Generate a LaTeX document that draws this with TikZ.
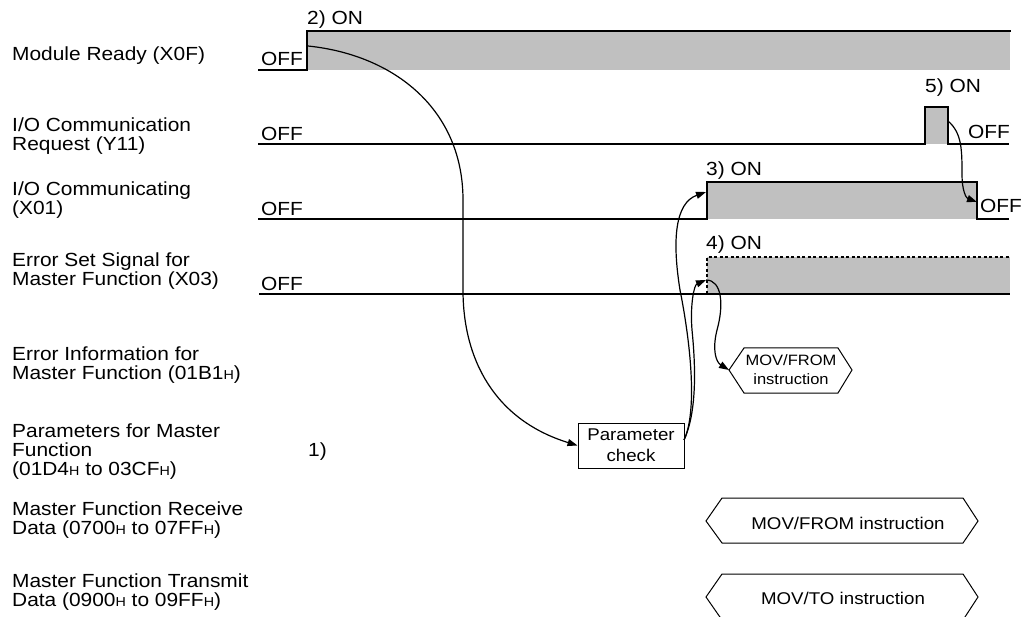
\documentclass[tikz,border=0pt]{standalone}
\usepackage{fontspec}
\setmainfont[FakeStretch=1.1]{Liberation Sans}
\usetikzlibrary{arrows.meta}
% small "H" suffix for hexadecimal addresses
\newcommand\hx{{\fontsize{13}{13}\selectfont H}}
\definecolor{onfill}{HTML}{C0C0C0}
\begin{document}
\begin{tikzpicture}[x=1pt,y=-1pt,
  lab/.style={anchor=base west, inner sep=0pt, font=\fontsize{19}{22}\selectfont},
  boxtext/.style={inner sep=0pt, font=\fontsize{17}{20}\selectfont},
  sig/.style={line width=1.4pt, line join=miter, line cap=rect},
  errline/.style={line width=2.2pt},
  dashedsig/.style={line width=1.4pt, dash pattern=on 3pt off 2.5pt},
  conn/.style={line width=1.2pt, -{Triangle[length=10pt,width=7pt]}},
  plain/.style={line width=1.2pt},
  hexa/.style={line width=1pt, line join=miter},
  pbox/.style={draw, line width=1pt, minimum width=106pt, minimum height=45pt,
    align=center, inner sep=0pt, font=\fontsize{17}{21}\selectfont},
]
\useasboundingbox (0,0) rectangle (1033,617);

% ---- signal names ----
\node[lab] (n1)  at (12,61)  {Module Ready (X0F)};
\node[lab] (n2a) at (12,132) {I/O Communication};
\node[lab] (n2b) at (12,151) {Request (Y11)};
\node[lab] (n3a) at (12,196) {I/O Communicating};
\node[lab] (n3b) at (12,215) {(X01)};
\node[lab] (n4a) at (12,267) {Error Set Signal for};
\node[lab] (n4b) at (12,286) {Master Function (X03)};
\node[lab] (n5a) at (12,361) {Error Information for};
\node[lab] (n5b) at (12,380) {Master Function (01B1\hx)};
\node[lab] (n6a) at (12,437) {Parameters for Master};
\node[lab] (n6b) at (12,456) {Function};
\node[lab] (n6c) at (12,475) {(01D4\hx{} to 03CF\hx)};
\node[lab] (n6s) at (308,456) {1)};
\node[lab] (n7a) at (12,515) {Master Function Receive};
\node[lab] (n7b) at (12,534) {Data (0700\hx{} to 07FF\hx)};
\node[lab] (n8a) at (12,587) {Master Function Transmit};
\node[lab] (n8b) at (12,606) {Data (0900\hx{} to 09FF\hx)};

% ---- Module Ready (X0F) ----
\fill[onfill] (307,31) rectangle (1010,70);
\draw[sig] (259,70) -- (307,70) -- (307,31) -- (1010,31);
\node[lab] (off1) at (261,66) {OFF};
\node[lab] (on1)  at (307,25) {2) ON};

% ---- I/O Communication Request (Y11) ----
\fill[onfill] (925,107) rectangle (948,144);
\draw[sig] (259,144) -- (925,144) -- (925,107) -- (948,107) -- (948,144) -- (1008,144);
\node[lab] (off2)  at (261,141) {OFF};
\node[lab] (on2)   at (925,93)  {5) ON};
\node[lab] (off2b) at (968,139) {OFF};

% ---- I/O Communicating (X01) ----
\fill[onfill] (707,182) rectangle (977,219);
\draw[sig] (259,219) -- (707,219) -- (707,182) -- (977,182) -- (977,219) -- (1008,219);
\node[lab] (off3)  at (261,216) {OFF};
\node[lab] (on3)   at (706,176) {3) ON};
\node[lab] (off3b) at (980,213) {OFF};

% ---- Error Set Signal for Master Function (X03) ----
\fill[onfill] (707,257) rectangle (1010,294);
\draw[dashedsig] (707,294) -- (707,257) -- (1010,257);
\draw[errline] (259,294) -- (1010,294);
\node[lab] (off4) at (261,291) {OFF};
\node[lab] (on4)  at (706,250) {4) ON};

% ---- parameter check ----
\node[pbox] (pchk) at (631,445.5) {Parameter\\check};

% ---- small MOV/FROM hexagon ----
\coordinate (mfL) at (729,370);
\draw[hexa] (mfL) -- (744,348) -- (838,348) -- (852,370) -- (838,393) -- (744,393) -- cycle;
\node[align=center, inner sep=0pt, font=\fontsize{15}{19}\selectfont] (mf) at (791,370) {MOV/FROM\\instruction};

% ---- receive / transmit data hexagons ----
\draw[hexa] (706,521) -- (722,498) -- (963,498) -- (978,521) -- (963,543) -- (722,543) -- cycle;
\node[boxtext, anchor=base] (rcv) at (848,529) {MOV/FROM instruction};
\draw[hexa] (706,597) -- (722,574) -- (963,574) -- (978,597) -- (963,620) -- (722,620) -- cycle;
\node[boxtext, anchor=base] (trn) at (843,604) {MOV/TO instruction};

% ---- connector end points on the signal edges ----
\coordinate (rdyOn)   at (308,46);
\coordinate (commOn)  at (706,192);
\coordinate (errOn)   at (706,280);
\coordinate (reqOff)  at (948,121);
\coordinate (commOff) at (977,202);
\coordinate (pchkR)   at (684,440);

% ---- connectors ----
\draw[conn] (rdyOn) .. controls (395,55) and (463,110) .. (463,200)
  -- (463,290) .. controls (463,360) and (495,420) .. (pchk.west);
\draw[conn] (pchkR) .. controls (698,410) and (690,340) .. (680,290)
  .. controls (672,240) and (675,203) .. (commOn);
\draw[conn] (pchkR) .. controls (698,410) and (695,360) .. (692,330)
  .. controls (690,305) and (694,285) .. (errOn);
\draw[conn] (errOn) .. controls (722,280) and (724,305) .. (717,330)
  .. controls (712,350) and (716,362) .. (mfL);
\draw[conn] (reqOff) .. controls (962,133) and (962,150) .. (962,175)
  .. controls (962,190) and (966,198) .. (commOff);
\end{tikzpicture}
\end{document}
